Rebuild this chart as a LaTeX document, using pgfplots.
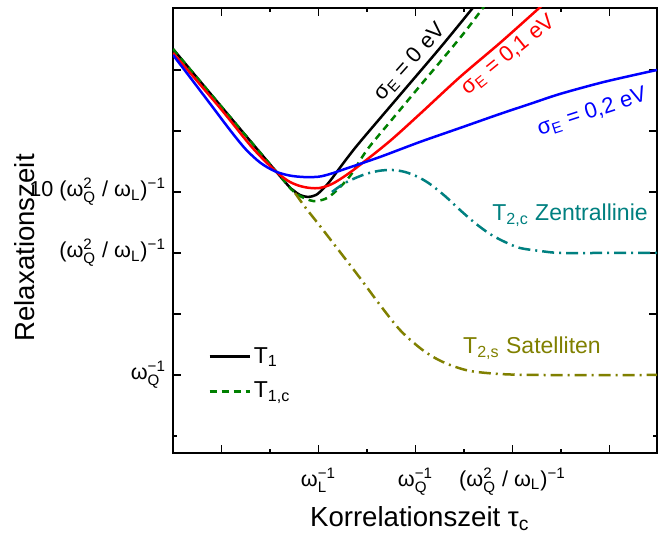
\documentclass[border=0pt]{standalone}
\usepackage{fontspec}
\setmainfont{Liberation Sans}
\usepackage{amsmath}
\usepackage{pgfplots}
\pgfplotsset{compat=1.18}
\usetikzlibrary{calc}
\definecolor{mygreen}{RGB}{0,128,0}
\definecolor{myteal}{RGB}{0,128,128}
\definecolor{myolive}{RGB}{128,128,0}
\newcommand{\sps}[2]{\ensuremath{^{\text{#1}}_{\text{#2}}}}
\newcommand{\sbs}[1]{\ensuremath{_{\text{#1}}}}
\newcommand{\sus}[1]{\ensuremath{^{\text{#1}}}}
\begin{document}
\begin{tikzpicture}
\begin{axis}[
 scale only axis, width=242pt, height=222.5pt,
 xmin=0, xmax=4.99, ymin=-0.279, ymax=7.016,
 axis line style={line width=0.8pt},
 xtick={0.5,1.5,2.5,3.5,4.5},
 xticklabels={,ω\sps{−1}{L},ω\sps{−1}{Q},(ω\sps{2}{Q} / ω\sbs{L})\sus{−1},},
 minor xtick={1,2,3,4},
 ytick={1,2,3,4,5,6},
 yticklabels={ω\sps{−1}{Q},,(ω\sps{2}{Q} / ω\sbs{L})\sus{−1},10 (ω\sps{2}{Q} / ω\sbs{L})\sus{−1},,},
 minor ytick={0},
 major tick length=4pt, minor tick length=2pt,
 tick style={line width=0.8pt, black},
 tick label style={font=\fontsize{10.8}{12}\selectfont},
 xticklabel style={yshift=-4pt},
 xlabel={Korrelationszeit τ\sbs{c}},
 ylabel={Relaxationszeit},
 label style={font=\fontsize{13.8}{16}\selectfont},
 xlabel style={at={(axis description cs:0.51,-0.148)},anchor=center},
 ylabel style={at={(axis description cs:-0.306,0.461)},anchor=center},
 legend style={at={(axis description cs:0.06,0.1775)}, anchor=west, draw=none, fill=none,
   font=\fontsize{11.5}{13}\selectfont, nodes={inner sep=1.5pt}, row sep=5pt},
 legend cell align=left,
 legend image code/.code={\draw[#1] (0pt,0pt) -- (20pt,0pt);},
 every axis plot/.append style={line width=1.25pt},
]
\coordinate (sw) at (rel axis cs:0,0);
\coordinate (ne) at (rel axis cs:1,1);
% T1, sigma = 0
\addplot[black, smooth] coordinates {
(0,6.344) (0.588,5.230) (1.155,4.164) (1.237,4.033) (1.309,3.951) (1.392,3.918)
(1.474,3.951) (1.546,4.049) (1.619,4.180) (1.773,4.508) (1.928,4.820) (2.340,5.590)
(2.753,6.361) (3.082,7.0) (3.216,7.262)};
\addlegendentry{T\sbs{1}}
% T1,c
\addplot[mygreen, smooth, dash pattern=on 3.5pt off 2.5pt] coordinates {
(0,6.344) (0.588,5.230) (1.155,4.164) (1.227,4.033) (1.309,3.934) (1.443,3.852)
(1.567,3.885) (1.670,4.0) (1.825,4.262) (2.0,4.689) (2.237,5.148) (2.546,5.738)
(2.959,6.525) (3.165,6.951) (3.268,7.18)};
\addlegendentry{T\sbs{1,c}}
% sigma = 0.1
\addplot[red, smooth, forget plot] coordinates {
(0,6.279) (0.485,5.377) (0.794,4.770) (0.969,4.475) (1.103,4.279) (1.206,4.164)
(1.309,4.098) (1.412,4.066) (1.515,4.066) (1.639,4.131) (1.773,4.262) (1.928,4.443)
(2.237,4.836) (2.546,5.279) (2.959,5.885) (3.371,6.443) (3.753,6.984) (3.866,7.148)};
% sigma = 0.2
\addplot[blue, smooth, forget plot] coordinates {
(0,6.246) (0.2,5.83) (0.4,5.41) (0.6,4.99) (0.75,4.70) (0.9,4.48) (1.05,4.34)
(1.2,4.27) (1.35,4.245) (1.5,4.25) (1.62,4.295) (1.773,4.377)
(2.134,4.574) (2.546,4.820) (2.959,5.049) (3.371,5.279) (3.680,5.443) (3.990,5.607)
(4.402,5.787) (4.711,5.902) (4.990,6.0)};
% T2,c
\addplot[myteal, smooth, forget plot, dash pattern=on 6pt off 2.5pt on 1pt off 2.5pt] coordinates {
(1.639,4.0) (1.773,4.148) (1.959,4.279) (2.113,4.344) (2.258,4.361) (2.392,4.328)
(2.526,4.246) (2.649,4.131) (2.804,3.934) (2.959,3.705) (3.113,3.492) (3.268,3.311)
(3.423,3.180) (3.577,3.082) (3.784,3.033) (3.990,3.0) (4.402,3.0) (4.990,3.0)};
% T2,s
\addplot[myolive, smooth, forget plot, dash pattern=on 6pt off 2.5pt on 1pt off 2.5pt] coordinates {
(1.258,3.984) (1.361,3.754) (1.515,3.443) (1.722,3.016) (1.928,2.590) (2.134,2.148)
(2.340,1.738) (2.546,1.443) (2.701,1.279) (2.856,1.164) (3.062,1.066) (3.371,1.016)
(3.784,1.0) (4.990,1.0)};
\node[rotate=48, text=black, font=\fontsize{11}{13}\selectfont] at (axis cs:2.443,6.131) {σ\sbs{E} = 0 eV};
\node[rotate=39, text=red, font=\fontsize{11}{13}\selectfont] at (axis cs:3.454,6.246) {σ\sbs{E} = 0,1 eV};
\node[rotate=18, text=blue, font=\fontsize{11}{13}\selectfont] at (axis cs:4.320,5.311) {σ\sbs{E} = 0,2 eV};
\node[text=myteal, font=\fontsize{11.5}{13}\selectfont] at (axis cs:4.093,3.623) {T\sbs{2,c} Zentrallinie};
\node[text=myolive, font=\fontsize{11.5}{13}\selectfont] at (axis cs:3.701,1.443) {T\sbs{2,s} Satelliten};
\end{axis}
\pgfresetboundingbox
\path[use as bounding box] ($(sw)+(-86.5pt,-47pt)$) rectangle ($(ne)+(1pt,4pt)$);
\end{tikzpicture}
\end{document}
